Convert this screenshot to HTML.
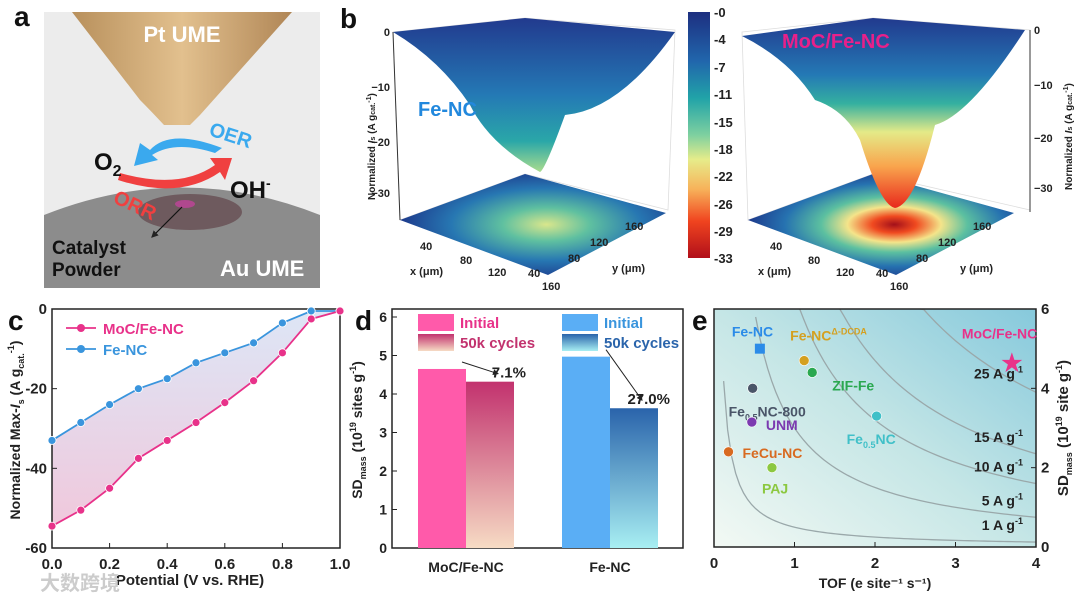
<!DOCTYPE html>
<html><head><meta charset="utf-8"><style>
body{margin:0;background:#fff;width:1080px;height:596px;overflow:hidden;font-family:"Liberation Sans","Noto Sans CJK SC",sans-serif}
svg{position:absolute;left:0;top:0}
text{font-family:"Liberation Sans","Noto Sans CJK SC",sans-serif;font-weight:bold}
</style></head><body>
<svg id="fig" width="1080" height="596" viewBox="0 0 1080 596">
<defs>
<linearGradient id="cone" x1="0" x2="1"><stop offset="0" stop-color="#b8905c"/><stop offset="0.5" stop-color="#e2c08e"/><stop offset="1" stop-color="#b08656"/></linearGradient>
<linearGradient id="cbar" x1="0" y1="0" x2="0" y2="1"><stop offset="0" stop-color="#1d2f80"/><stop offset="0.2" stop-color="#2166ac"/><stop offset="0.35" stop-color="#21a3a8"/><stop offset="0.5" stop-color="#7ed0a0"/><stop offset="0.6" stop-color="#e6ec8a"/><stop offset="0.72" stop-color="#f7b25a"/><stop offset="0.85" stop-color="#f0441f"/><stop offset="1" stop-color="#b10f1a"/></linearGradient>
<linearGradient id="surf" x1="0" y1="0" x2="0" y2="1"><stop offset="0" stop-color="#223a8e"/><stop offset="0.5" stop-color="#2479b5"/><stop offset="0.8" stop-color="#2aa7a8"/><stop offset="1" stop-color="#a9dc8e"/></linearGradient>
<linearGradient id="surf2" x1="0" y1="0" x2="0" y2="1"><stop offset="0" stop-color="#223a8e"/><stop offset="0.3" stop-color="#2479b5"/><stop offset="0.45" stop-color="#34b0a0"/><stop offset="0.6" stop-color="#e4ea88"/><stop offset="0.78" stop-color="#f9a54d"/><stop offset="1" stop-color="#e8281c"/></linearGradient>
<radialGradient id="floor1" cx="0.55" cy="0.5" r="0.55"><stop offset="0" stop-color="#d9e68c"/><stop offset="0.3" stop-color="#5fc0a0"/><stop offset="0.65" stop-color="#2777b2"/><stop offset="1" stop-color="#1d3a8c"/></radialGradient>
<radialGradient id="floor2" cx="0.55" cy="0.5" r="0.55"><stop offset="0" stop-color="#a3101a"/><stop offset="0.15" stop-color="#f04a20"/><stop offset="0.32" stop-color="#f4e48a"/><stop offset="0.5" stop-color="#5cc0a0"/><stop offset="0.75" stop-color="#2672b0"/><stop offset="1" stop-color="#1d3a8c"/></radialGradient>
<linearGradient id="ebg" x1="0" y1="1" x2="1" y2="0"><stop offset="0" stop-color="#f3f9f4"/><stop offset="0.5" stop-color="#c5e6e6"/><stop offset="1" stop-color="#86c9dc"/></linearGradient>
<linearGradient id="gM" x1="0" y1="0" x2="0" y2="1"><stop offset="0" stop-color="#c2326e"/><stop offset="1" stop-color="#f6dbc4"/></linearGradient>
<linearGradient id="gF" x1="0" y1="0" x2="0" y2="1"><stop offset="0" stop-color="#2a64ab"/><stop offset="1" stop-color="#a8eef2"/></linearGradient>
<linearGradient id="cfill" x1="0" y1="0" x2="0" y2="1"><stop offset="0" stop-color="#dde6f6"/><stop offset="1" stop-color="#f0c8dc"/></linearGradient>
<marker id="arr" markerWidth="6" markerHeight="6" refX="5" refY="3" orient="auto"><path d="M0,0L6,3L0,6z" fill="#222"/></marker>
</defs>

<g>
<rect x="44" y="12" width="276" height="276" fill="#ececec"/>
<path d="M44,215 Q182,160 320,215 L320,288 L44,288z" fill="#8c8c8c"/>
<ellipse cx="190" cy="212" rx="52" ry="18" fill="#6e5a5e"/>
<ellipse cx="185" cy="204" rx="10" ry="4" fill="#b0488e"/>
<path d="M72,12 L292,12 L200,115 L190,125 L164,125 Q150,110 140,100z" fill="url(#cone)"/>
<text x="182" y="42" font-size="22" fill="#fff" text-anchor="middle">Pt UME</text>
<path d="M222,148 Q170,128 150,150 L140,143 L134,166 L158,160 L152,155 Q175,140 215,153z" fill="#3aa9ee"/>
<text x="208" y="135" font-size="20" fill="#3aa9ee" transform="rotate(18 208 135)">OER</text>
<path d="M120,173 Q180,190 215,165 L210,158 L232,158 L225,180 L220,172 Q180,200 118,180z" fill="#f04040"/>
<text x="112" y="202" font-size="20" fill="#f04040" transform="rotate(25 112 202)">ORR</text>
<text x="94" y="170" font-size="24" fill="#111">O<tspan font-size="16" dy="6">2</tspan></text>
<text x="230" y="198" font-size="24" fill="#111">OH<tspan font-size="14" dy="-10">-</tspan></text>
<line x1="182" y1="207" x2="152" y2="237" stroke="#111" stroke-width="1.2" marker-end="url(#arr)"/>
<text x="52" y="254" font-size="19" fill="#111">Catalyst</text>
<text x="52" y="276" font-size="19" fill="#111">Powder</text>
<text x="220" y="276" font-size="22" fill="#fff">Au UME</text>
<text x="14" y="26" font-size="28" fill="#111">a</text>
</g>

<g>
<text x="340" y="28" font-size="28" fill="#111">b</text>
<g>
<path d="M393,32 L525,18 L675,30 L668,210 L525,174 L400,220z" fill="none" stroke="#ddd" stroke-width="0.8"/>
<line x1="393" y1="32" x2="400" y2="220" stroke="#333"/>
<polygon points="400,220 548,275 666,213 525,174" fill="url(#floor1)"/>
<path d="M393,32 L525,18 L675,32 Q620,110 565,115 Q545,170 540,172 Q490,145 470,105 Q440,60 393,32z" fill="url(#surf)"/>
<text x="418" y="116" font-size="20" fill="#2288dd">Fe-NC</text>
<g font-size="11" fill="#222" text-anchor="end" font-weight="normal"><text x="390" y="36">0</text><text x="390" y="91">−10</text><text x="390" y="146">−20</text><text x="390" y="197">−30</text></g>
<text x="375" y="200" font-size="10" transform="rotate(-90 375 200)" fill="#222" font-weight="normal"><tspan>Normalized </tspan><tspan font-style="italic">I</tspan><tspan font-size="7">s</tspan><tspan> (A g</tspan><tspan font-size="7">cat.</tspan><tspan font-size="7" dy="-4">-1</tspan><tspan dy="4">)</tspan></text>
<g font-size="11" fill="#222" font-weight="normal"><text x="420" y="250">40</text><text x="460" y="264">80</text><text x="488" y="276">120</text><text x="542" y="290">160</text>
<text x="528" y="277">40</text><text x="568" y="262">80</text><text x="590" y="246">120</text><text x="625" y="230">160</text>
<text x="410" y="275">x (μm)</text><text x="612" y="272">y (μm)</text></g>
</g>
<rect x="688" y="12" width="22" height="246" fill="url(#cbar)"/>
<g font-size="13" fill="#222" font-weight="normal">
<text x="714" y="17">-0</text><text x="714" y="44">-4</text><text x="714" y="72">-7</text><text x="714" y="99">-11</text><text x="714" y="127">-15</text><text x="714" y="154">-18</text><text x="714" y="181">-22</text><text x="714" y="209">-26</text><text x="714" y="236">-29</text><text x="714" y="263">-33</text></g>
<g>
<path d="M742,32 L873,18 L1030,30 L1030,210 L873,174 L748,220z" fill="none" stroke="#ddd" stroke-width="0.8"/>
<line x1="1030" y1="30" x2="1030" y2="212" stroke="#333"/>
<polygon points="748,220 896,275 1014,213 873,174" fill="url(#floor2)"/>
<path d="M742,36 L873,18 L1025,30 Q970,115 935,125 Q915,205 895,208 Q880,205 860,140 Q845,110 815,100 Q790,60 742,36z" fill="url(#surf2)"/>
<text x="782" y="48" font-size="20" fill="#e8208a">MoC/Fe-NC</text>
<g font-size="11" fill="#222" font-weight="normal"><text x="1034" y="34">0</text><text x="1034" y="89">−10</text><text x="1034" y="142">−20</text><text x="1034" y="192">−30</text>
<text x="770" y="250">40</text><text x="808" y="264">80</text><text x="836" y="276">120</text><text x="890" y="290">160</text>
<text x="876" y="277">40</text><text x="916" y="262">80</text><text x="938" y="246">120</text><text x="973" y="230">160</text>
<text x="758" y="275">x (μm)</text><text x="960" y="272">y (μm)</text></g>
<text x="1072" y="190" font-size="10" transform="rotate(-90 1072 190)" fill="#222"><tspan>Normalized </tspan><tspan font-style="italic">I</tspan><tspan font-size="7">s</tspan><tspan> (A g</tspan><tspan font-size="7">cat.</tspan><tspan font-size="7" dy="-4">-1</tspan><tspan dy="4">)</tspan></text>
</g>
</g>

<g id="pc"></g>
<g id="pd"></g>
<g id="pe"></g>
<text x="40" y="590" font-size="20" fill="#ccc" font-weight="normal">大数跨境</text>
</svg>
<script>
const NS='http://www.w3.org/2000/svg';
function mk(p,tag,a,txt){const e=document.createElementNS(NS,tag);for(const k in a)e.setAttribute(k,a[k]);if(txt!==undefined)e.textContent=txt;p.appendChild(e);return e;}

const cPotential=[0,0.1,0.2,0.3,0.4,0.5,0.6,0.7,0.8,0.9,1.0];
const cMoC=[-54.5,-50.5,-45,-37.5,-33,-28.5,-23.5,-18,-11,-2.5,-0.5];
const cFe=[-33,-28.5,-24,-20,-17.5,-13.5,-11,-8.5,-3.5,-0.5,-0.5];
const cXTicks=[0,0.2,0.4,0.6,0.8,1.0];
const cYTicks=[0,-20,-40,-60];
const dGroups=['MoC/Fe-NC','Fe-NC'];
const dInitial=[4.65,4.97];
const dCycled=[4.32,3.63];
const dLoss=['7.1%','27.0%'];
const dYTicks=[0,1,2,3,4,5,6];
const eNames=['Fe-NC','Fe-NC\u0394-DCDA','ZIF-Fe','Fe0.5NC-800','UNM','Fe0.5NC','FeCu-NC','PAJ','MoC/Fe-NC'];
const eTOF=[0.57,1.12,1.22,0.48,0.47,2.02,0.18,0.72,3.7];
const eSD=[5.0,4.7,4.4,4.0,3.15,3.3,2.4,2.0,4.65];
const eIsoLabels=['1 A g','5 A g','10 A g','15 A g','25 A g'];
const eIsoProducts=[0.5,3.0,6.4,9.4,15.6];
const eXTicks=[0,1,2,3,4];
const eYTicks=[0,2,4,6];

(function(){
const g=document.getElementById('pc');
const X=v=>52+v*288, Y=v=>309+(v/-60)*239;
const top=cFe.map((v,i)=>X(cPotential[i])+','+Y(v));
const bot=cMoC.map((v,i)=>X(cPotential[i])+','+Y(v)).reverse();
const area=mk(g,'polygon',{points:top.concat(bot).join(' '),fill:'url(#cfill)'});


mk(g,'rect',{x:52,y:309,width:288,height:239,fill:'none',stroke:'#222','stroke-width':1.5});
cXTicks.forEach(t=>{mk(g,'line',{x1:X(t),x2:X(t),y1:548,y2:543,stroke:'#222'});const l=mk(g,'text',{x:X(t),y:569,'font-size':15,'text-anchor':'middle',fill:'#222'},t.toFixed(1));});
cYTicks.forEach(t=>{mk(g,'line',{x1:52,x2:57,y1:Y(t),y2:Y(t),stroke:'#222'});const l=mk(g,'text',{x:47,y:Y(t)+5,'font-size':15,'text-anchor':'end',fill:'#222'},t);});
[[cFe,'#3a95dd','fe-nc-line'],[cMoC,'#e8328a','moc-line']].forEach(([s,c,n])=>{
 const pl=mk(g,'polyline',{points:s.map((v,i)=>X(cPotential[i])+','+Y(v)).join(' '),fill:'none',stroke:c,'stroke-width':1.8});
 
 s.forEach((v,i)=>{const p=mk(g,'circle',{cx:X(cPotential[i]),cy:Y(v),r:4,fill:c,stroke:'#fff','stroke-width':0.8});});
});
[['MoC/Fe-NC','#e8328a',328],['Fe-NC','#3a95dd',349]].forEach(([t,c,y])=>{
 mk(g,'line',{x1:66,x2:96,y1:y,y2:y,stroke:c,'stroke-width':1.8});mk(g,'circle',{cx:81,cy:y,r:4,fill:c});
 const l=mk(g,'text',{x:103,y:y+6,'font-size':15,fill:c},t);});
mk(g,'text',{x:190,y:585,'font-size':15,'text-anchor':'middle',fill:'#222'},'Potential (V vs. RHE)');
const yt=mk(g,'text',{x:20,y:430,'font-size':14,'text-anchor':'middle',fill:'#222',transform:'rotate(-90 20 430)'});
yt.innerHTML='Normalized Max-<tspan font-style="italic">I</tspan><tspan font-size="9" dy="4">s</tspan><tspan dy="-4"> (A g</tspan><tspan font-size="9" dy="4">cat.</tspan><tspan font-size="9" dy="-10">-1</tspan><tspan dy="6">)</tspan>';
mk(g,'text',{x:8,y:330,'font-size':28,fill:'#111'},'c');
})();

(function(){
const g=document.getElementById('pd');
const Y=v=>548-v*(231/6), x0=[418,562], bw=48;
mk(g,'rect',{x:392,y:309,width:291,height:239,fill:'none',stroke:'#222','stroke-width':1.5});
dYTicks.forEach(t=>{mk(g,'line',{x1:392,x2:397,y1:Y(t),y2:Y(t),stroke:'#222'});mk(g,'text',{x:387,y:Y(t)+5,'font-size':14,'text-anchor':'end',fill:'#222'},t);});
const initC=['#ff5aaa','#5aaef5'],cycC=['url(#gM)','url(#gF)'];
dGroups.forEach((n,i)=>{
 const b1=mk(g,'rect',{x:x0[i],y:Y(dInitial[i]),width:bw,height:548-Y(dInitial[i]),fill:initC[i]});
 
 const b2=mk(g,'rect',{x:x0[i]+bw,y:Y(dCycled[i]),width:bw,height:548-Y(dCycled[i]),fill:cycC[i]});
 
 mk(g,'text',{x:x0[i]+bw,y:572,'font-size':14,'text-anchor':'middle',fill:'#222'},n);
 mk(g,'line',{x1:x0[i]+44,y1:Y(dInitial[i])-7,x2:x0[i]+80,y2:Y(dCycled[i])-8,stroke:'#222','stroke-width':1,'marker-end':'url(#arr)'});
 const l=mk(g,'text',{x:x0[i]+bw*2+12,y:Y(dCycled[i])-4,'font-size':15,'text-anchor':'end',fill:'#222'},dLoss[i]);
 
});
[[418,'#ff5aaa','#c2326e','Initial','#e8328a'],[562,'#5aaef5','#2a64ab','Initial','#3a95dd']].forEach(([x,c1,c2,t,tc],i)=>{
 mk(g,'rect',{x:x,y:314,width:36,height:17,fill:c1});mk(g,'text',{x:x+42,y:328,'font-size':15,fill:tc,'font-weight':'normal'},'Initial');
 mk(g,'rect',{x:x,y:334,width:36,height:17,fill:i?'url(#gF)':'url(#gM)'});mk(g,'text',{x:x+42,y:348,'font-size':15,fill:c2,'font-weight':'normal'},'50k cycles');
});
const yt=mk(g,'text',{x:362,y:430,'font-size':14,'text-anchor':'middle',fill:'#222',transform:'rotate(-90 362 430)'});
yt.innerHTML='SD<tspan font-size="9" dy="4">mass</tspan><tspan dy="-4"> (10</tspan><tspan font-size="9" dy="-6">19</tspan><tspan dy="6"> sites g</tspan><tspan font-size="9" dy="-6">-1</tspan><tspan dy="6">)</tspan>';
mk(g,'text',{x:355,y:330,'font-size':28,fill:'#111'},'d');
})();

(function(){
const g=document.getElementById('pe');
const X=v=>714+v*80.5, Y=v=>547-v*(238/6);
mk(g,'rect',{x:714,y:309,width:322,height:238,fill:'url(#ebg)'});
eIsoProducts.forEach((p,i)=>{
 let pts=[];for(let k=0;k<=80;k++){const x=0.02+k*(4-0.02)/80, y=p/x; if(y<=6.2)pts.push(X(x)+','+Math.max(309,Y(y)));}
 const c=mk(g,'polyline',{points:pts.join(' '),fill:'none',stroke:'#9aa8aa','stroke-width':1.3});
 
 const t=mk(g,'text',{x:1023,y:Y(p/4)+(i==4?-14:-12),'font-size':14,'text-anchor':'end',fill:'#222'});
 t.innerHTML=eIsoLabels[i]+'<tspan font-size="9" dy="-6">-1</tspan>';
});
mk(g,'rect',{x:714,y:309,width:322,height:238,fill:'none',stroke:'#222','stroke-width':1.5});
eXTicks.forEach(t=>{mk(g,'line',{x1:X(t),x2:X(t),y1:547,y2:542,stroke:'#222'});mk(g,'text',{x:X(t),y:568,'font-size':15,'text-anchor':'middle',fill:'#222'},t);});
eYTicks.forEach(t=>{mk(g,'line',{x1:1036,x2:1031,y1:Y(t),y2:Y(t),stroke:'#222'});mk(g,'text',{x:1041,y:Y(t)+5,'font-size':15,fill:'#222'},t);});
const cols=['#2b8be8','#d4a020','#2aa850','#4a5568','#7b3ab0','#40c0c8','#d86a20','#8cc840','#e8328a'];
const lab=[[-28,-12],[-14,-20],[20,18],[-24,28],[14,8],[-30,28],[14,6],[-10,26],[-50,-24]];
eNames.forEach((n,i)=>{
 const x=X(eTOF[i]),y=Y(eSD[i]);let m;
 if(i==0)m=mk(g,'rect',{x:x-5,y:y-5,width:10,height:10,fill:cols[i]});
 else if(i==8)m=mk(g,'text',{x:x,y:y+8,'font-size':22,'text-anchor':'middle',fill:cols[i]},'★');
 else m=mk(g,'circle',{cx:x,cy:y,r:5,fill:cols[i],stroke:'#fff','stroke-width':0.6});
 
 const t=mk(g,'text',{x:x+lab[i][0],y:y+lab[i][1],'font-size':14,fill:cols[i]});
 
 if(n.indexOf('Fe0.5')==0)t.innerHTML='Fe<tspan font-size="9" dy="4">0.5</tspan><tspan dy="-4">'+n.slice(5)+'</tspan>';
 else if(i==1)t.innerHTML='Fe-NC<tspan font-size="9" dy="-6">Δ-DCDA</tspan>';
 else t.textContent=n;
});
mk(g,'text',{x:875,y:588,'font-size':14,'text-anchor':'middle',fill:'#222'},'TOF (e site⁻¹ s⁻¹)');
const yt=mk(g,'text',{x:1068,y:428,'font-size':15,'text-anchor':'middle',fill:'#222',transform:'rotate(-90 1068 428)'});
yt.innerHTML='SD<tspan font-size="9" dy="4">mass</tspan><tspan dy="-4"> (10</tspan><tspan font-size="9" dy="-6">19</tspan><tspan dy="6"> site g</tspan><tspan font-size="9" dy="-6">-1</tspan><tspan dy="6">)</tspan>';
mk(g,'text',{x:692,y:330,'font-size':28,fill:'#111'},'e');
})();
</script>
</body></html>
